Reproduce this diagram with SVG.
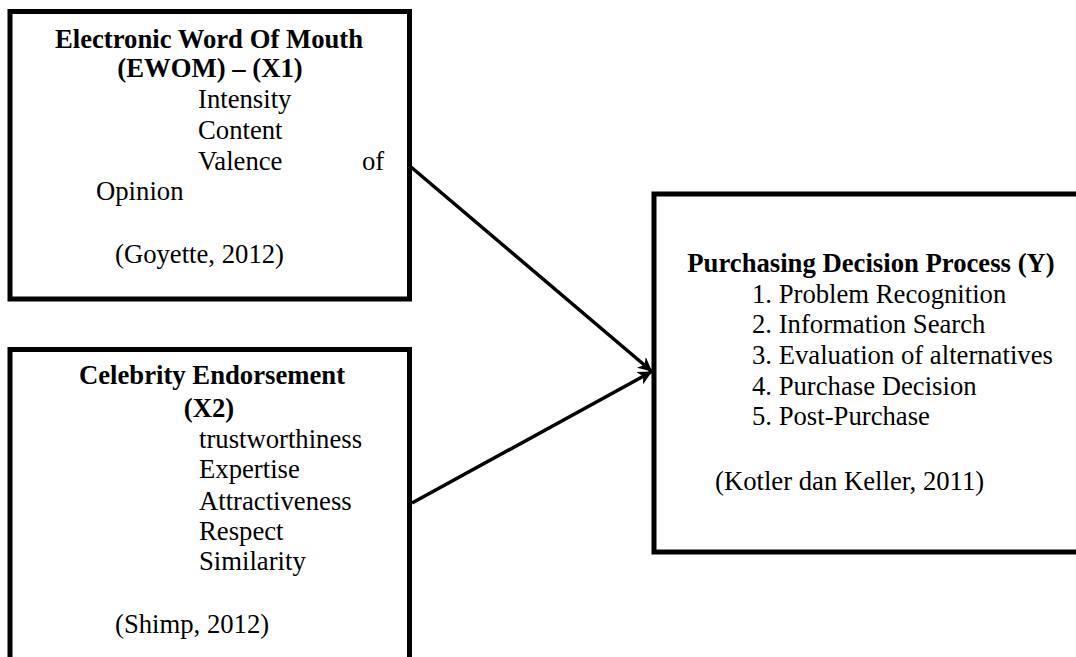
<svg xmlns="http://www.w3.org/2000/svg" width="1076" height="657" viewBox="0 0 1076 657">
<style>
  .box { fill: #fff; stroke: #000; stroke-width: 5; }
  text { font-family: "Liberation Serif", "Times New Roman", serif; font-size: 26.7px; fill: #000; }
  .b { font-weight: bold; }
  .c { text-anchor: middle; }
  .conn { stroke: #000; stroke-width: 3.5; fill: none; marker-end: url(#ah); }
</style>
<defs>
  <marker id="ah" markerWidth="16" markerHeight="14" refX="14" refY="7" orient="auto" markerUnits="userSpaceOnUse">
    <path d="M0,0 L14,7 L0,14 L4,7 Z" fill="#000"/>
  </marker>
</defs>
<rect width="1076" height="657" fill="#fff"/>
<g id="node-ewom">
  <rect class="box" x="10" y="11.5" width="399.5" height="287.5"/>
  <text class="b c" x="209" y="48">Electronic Word Of Mouth</text>
  <text class="b c" x="210" y="77">(EWOM) – (X1)</text>
  <text x="198" y="108">Intensity</text>
  <text x="198" y="139">Content</text>
  <text x="198" y="170">Valence</text>
  <text x="362" y="170">of</text>
  <text x="96" y="200">Opinion</text>
  <text x="115" y="263">(Goyette, 2012)</text>
</g>
<g id="node-celebrity">
  <rect class="box" x="10" y="349.5" width="399.5" height="320"/>
  <text class="b c" x="212" y="384">Celebrity Endorsement</text>
  <text class="b c" x="209" y="417">(X2)</text>
  <text x="199" y="448">trustworthiness</text>
  <text x="199" y="478">Expertise</text>
  <text x="199" y="510">Attractiveness</text>
  <text x="199" y="540">Respect</text>
  <text x="199" y="570">Similarity</text>
  <text x="115" y="633">(Shimp, 2012)</text>
</g>
<g id="node-purchase">
  <rect class="box" x="654" y="194" width="440" height="358"/>
  <text class="b c" x="871" y="272">Purchasing Decision Process (Y)</text>
  <text x="752" y="303">1. Problem Recognition</text>
  <text x="752" y="333">2. Information Search</text>
  <text x="752" y="364">3. Evaluation of alternatives</text>
  <text x="752" y="395">4. Purchase Decision</text>
  <text x="752" y="425">5. Post-Purchase</text>
  <text x="715" y="490">(Kotler dan Keller, 2011)</text>
</g>
<g id="connectors">
  <line class="conn" x1="411" y1="167" x2="652" y2="371.5"/>
  <line class="conn" x1="412" y1="503" x2="652" y2="371.5"/>
</g>
</svg>
